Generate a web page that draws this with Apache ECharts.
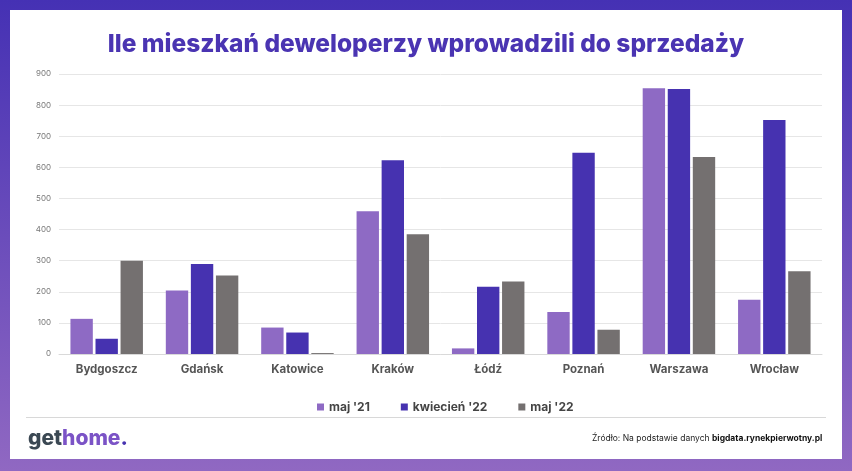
<!DOCTYPE html>
<html>
<head>
<meta charset="utf-8">
<script src="https://cdn.jsdelivr.net/npm/echarts@6/dist/echarts.min.js"></script>
<style>
html,body{margin:0;padding:0;}
#c{width:852px;height:471px;}
</style>
</head>
<body>
<div id="c"></div>
<script>
const categories = ['Bydgoszcz','Gdańsk','Katowice','Kraków','Łódź','Poznań','Warszawa','Wrocław'];
const seriesNames = ["maj '21", "kwiecień '22", "maj '22"];
const maj21 = [113, 204, 85, 459, 18, 135, 854, 174];
const kwiecien22 = [49, 289, 69, 623, 216, 647, 852, 752];
const maj22 = [300, 252, 3, 385, 233, 78, 633, 266];
const colors = ['#8e6ac4', '#4632b0', '#747070'];

const chart = echarts.init(document.getElementById('c'), null, {renderer: 'canvas'});
const font = 'Inter, "Noto Sans", sans-serif';
chart.setOption({
  animation: false,
  backgroundColor: 'transparent',
  color: colors,
  title: {
    text: 'Ile mieszkań deweloperzy wprowadzili do sprzedaży',
    left: 'center',
    top: 27,
    textStyle: {color: '#4a34b2', fontSize: 24.5, fontWeight: 800, fontFamily: font}
  },
  graphic: [
    {type: 'rect', z: -10, left: 0, top: 0, shape: {x: 0, y: 0, width: 852, height: 471},
     style: {fill: new echarts.graphic.LinearGradient(0, 0, 0, 1, [
       {offset: 0, color: '#4531b4'}, {offset: 1, color: '#9068c2'}])}},
    {type: 'rect', z: -9, shape: {x: 10, y: 10, width: 832, height: 449}, style: {fill: '#ffffff'}},
    {type: 'line', shape: {x1: 26, y1: 417.5, x2: 826, y2: 417.5}, style: {stroke: '#d8d8d8', lineWidth: 1}},
    {type: 'text', left: 28, top: 428, style: {
      text: '{a|get}{b|home}{c|.}',
      rich: {
        a: {fill: '#3b4853', fontSize: 21, fontWeight: 800, fontFamily: font},
        b: {fill: '#7b53c6', fontSize: 21, fontWeight: 800, fontFamily: font},
        c: {fill: '#4632b0', fontSize: 21, fontWeight: 800, fontFamily: font}
      }}},
    {type: 'text', left: 592, top: 434, style: {
      text: '{r|Źródło: Na podstawie danych }{bb|bigdata.rynekpierwotny.pl}',
      rich: {
        r: {fill: '#222', fontSize: 8.5, fontFamily: font},
        bb: {fill: '#111', fontSize: 8.5, fontWeight: 'bold', fontFamily: font}
      }}}
  ],
  legend: {
    data: seriesNames,
    left: 312,
    top: 396,
    itemWidth: 7,
    itemHeight: 7,
    itemGap: 31,
    icon: 'rect',
    textStyle: {color: '#444', fontSize: 12, fontWeight: 'bold', fontFamily: font}
  },
  grid: {left: 59, right: 30, top: 74, bottom: 117, containLabel: false},
  xAxis: {
    type: 'category',
    data: categories,
    axisLine: {lineStyle: {color: '#d9d9d9'}},
    axisTick: {show: false},
    axisLabel: {color: '#555', fontSize: 11.5, fontWeight: 'bold', fontFamily: font, margin: 10}
  },
  yAxis: {
    type: 'value',
    min: 0, max: 900, interval: 100,
    axisLine: {show: false},
    axisTick: {show: false},
    splitLine: {lineStyle: {color: '#e6e6e6'}},
    axisLabel: {color: '#777', fontSize: 8, fontFamily: font, margin: 8}
  },
  series: [
    {name: seriesNames[0], type: 'bar', data: maj21, barGap: '12%', barCategoryGap: '24%'},
    {name: seriesNames[1], type: 'bar', data: kwiecien22, barGap: '12%', barCategoryGap: '24%'},
    {name: seriesNames[2], type: 'bar', data: maj22, barGap: '12%', barCategoryGap: '24%'}
  ]
});
</script>
</body>
</html>
